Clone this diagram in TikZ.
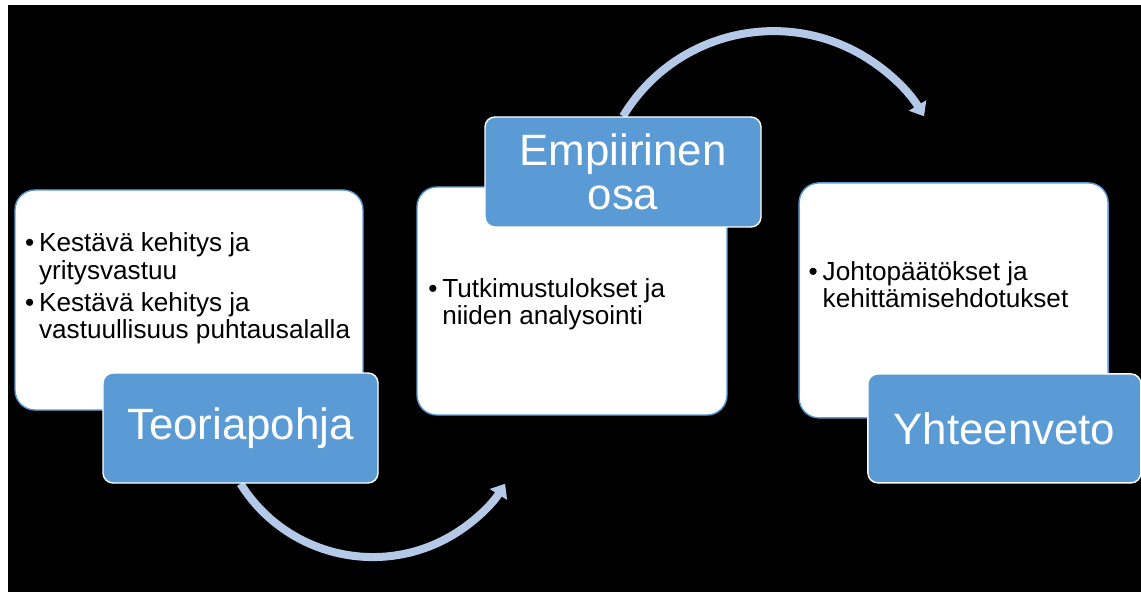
\documentclass[tikz,border=0pt]{standalone}
\usepackage{fontspec}
\setmainfont{Liberation Sans}
\usetikzlibrary{arrows.meta, backgrounds}

\definecolor{headblue}{RGB}{91,155,213}
\definecolor{arcblue}{RGB}{180,200,232}

\tikzset{
	sectionbox/.style={draw=headblue, line width=1pt, fill=white, rounded corners=0.5cm},
	headbox/.style={draw=white, line width=1pt, fill=headblue, rounded corners=0.25cm, text=white, align=center, inner sep=0pt, font=\fontsize{31.2}{31.5}\selectfont},
	bullets/.style={anchor=base west, inner sep=0pt, font=\fontsize{18.6}{19.2}\selectfont},
	flow/.style={arcblue, line width=5.7pt, -{Triangle[width=14pt, length=9pt]}}
}
\newcommand{\bul}{\makebox[0.35cm][l]{\textbullet}}

\begin{document}
\begin{tikzpicture}
	\useasboundingbox (0,0) rectangle (28.525,14.8);

	%boxes
	\node[sectionbox, minimum width=8.7cm, minimum height=5.5cm] (teoriabox) at (4.725,7.3) {};
	\node[sectionbox, minimum width=7.75cm, minimum height=5.7cm] (empiirinenbox) at (14.3,7.275) {};
	\node[sectionbox, minimum width=7.725cm, minimum height=5.875cm] (yhteenvetobox) at (23.84,7.29) {};

	%bullet texts
	\node[bullets] (teoriatext) at (0.62,8.5) {\begin{tabular}[t]{@{}l@{}}
		\bul Kestävä kehitys ja\\ \hspace*{0.35cm}yritysvastuu\\[3.5pt]
		\bul Kestävä kehitys ja\\ \hspace*{0.35cm}vastuullisuus puhtausalalla
	\end{tabular}};
	\node[bullets] (empiirinentext) at (10.7,7.375) {\begin{tabular}[t]{@{}l@{}}
		\bul Tutkimustulokset ja\\ \hspace*{0.35cm}niiden analysointi
	\end{tabular}};
	\node[bullets] (yhteenvetotext) at (20.21,7.8) {\begin{tabular}[t]{@{}l@{}}
		\bul Johtopäätökset ja\\ \hspace*{0.35cm}kehittämisehdotukset
	\end{tabular}};

	%labels
	\node[headbox, minimum width=6.875cm, minimum height=2.75cm] (teoria) at (6.0125,4.1) {Teoriapohja};
	\node[headbox, minimum width=6.9cm, minimum height=2.75cm] (empiirinen) at (15.575,10.5) {Empiirinen\\osa};
	\node[headbox, minimum width=6.825cm, minimum height=2.725cm] (yhteenveto) at (25.11,4.09) {Yhteenveto};

	%background and arcs
	\begin{scope}[on background layer]
		\fill[white] (0,0) rectangle (28.525,14.8);
		\fill[black] (0.2,0) rectangle (28.525,14.675);
		\draw[flow] (teoria.south) arc[start angle=212, end angle=328, radius=3.9cm];
		\draw[flow] (empiirinen.north) arc[start angle=149, end angle=31, radius=4.39cm];
	\end{scope}
\end{tikzpicture}
\end{document}
